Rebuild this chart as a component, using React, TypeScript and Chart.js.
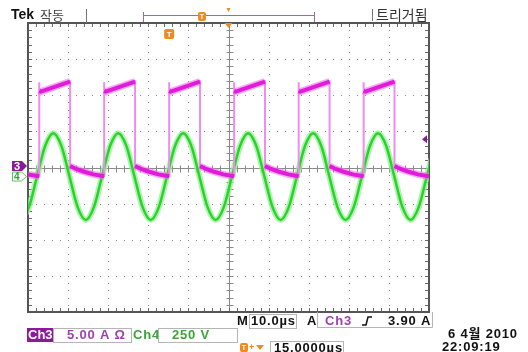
import React, { useEffect, useRef } from "react";
import { Chart, registerables } from "chart.js";

Chart.register(...registerables);

// ---- data (time in µs, Ch3 current in A, Ch4 voltage in V) ----
const ch3Time = [
  0,
  2.8, 2.8, 2.8, 3.2, 10.5, 10.5, 12.0, 13.8, 16.3,
  19.0, 19.0, 19.0, 19.4, 26.7, 26.7, 28.2, 30.0, 32.5,
  35.2, 35.2, 35.2, 35.6, 42.9, 42.9, 44.4, 46.2, 48.7,
  51.4, 51.4, 51.4, 51.8, 59.1, 59.1, 60.6, 62.4, 64.9,
  67.5, 67.5, 67.5, 67.9, 75.2, 75.2, 76.7, 78.5, 81.0,
  83.7, 83.7, 83.7, 84.1, 91.4, 91.4, 92.9, 94.7, 97.2,
  100,
];
const ch3Amps = [
  -0.95,
  -1.2, 11.8, 10.6, 10.5, 11.9, 0.2, -0.2, -0.55, -0.95,
  -1.2, 11.8, 10.6, 10.5, 11.9, 0.2, -0.2, -0.55, -0.95,
  -1.2, 11.8, 10.6, 10.5, 11.9, 0.2, -0.2, -0.55, -0.95,
  -1.2, 11.8, 10.6, 10.5, 11.9, 0.2, -0.2, -0.55, -0.95,
  -1.2, 11.8, 10.6, 10.5, 11.9, 0.2, -0.2, -0.55, -0.95,
  -1.2, 11.8, 10.6, 10.5, 11.9, 0.2, -0.2, -0.55, -0.95,
  -1.2,
];
const ch4Time = [
  -1.8, 0.23, 2.25, 4.28, 6.3, 8.33, 10.35, 12.38,
  14.4, 16.43, 18.45, 20.48, 22.5, 24.53, 26.55, 28.58,
  30.6, 32.63, 34.65, 36.68, 38.7, 40.73, 42.75, 44.78,
  46.8, 48.83, 50.85, 52.88, 54.9, 56.93, 58.95, 60.98,
  63.0, 65.03, 67.05, 69.08, 71.1, 73.13, 75.15, 77.18,
  79.2, 81.23, 83.25, 85.28, 87.3, 89.33, 91.35, 93.38,
  95.4, 97.43, 99.45, 101.48,
];
const ch4Volts = [
  -300, -212, 0, 212, 300, 212, 0, -212,
  -300, -212, 0, 212, 300, 212, 0, -212,
  -300, -212, 0, 212, 300, 212, 0, -212,
  -300, -212, 0, 212, 300, 212, 0, -212,
  -300, -212, 0, 212, 300, 212, 0, -212,
  -300, -212, 0, 212, 300, 212, 0, -212,
  -300, -212, 0, 212,
];

const timeRange = [0, 100]; // 10 div × 10 µs
const ch3Range = [-20, 20]; // 5 A/div
const ch4Range = [-937.5, 1062.5]; // 250 V/div, ground 0.25 div below centre
const triggerLevelA = 3.9;
const triggerTimeUs = 35.2;
const expansionUs = 50;

const topLabels = ["Tek", "작동", "트리거됨"];
const bottomLabels = {
  timebase: "10.0µs",
  trigSrc: "Ch3",
  trigLevel: "3.90 A",
  ch3Scale: "5.00 A Ω",
  ch4Scale: "250 V",
  horizPos: "15.0000µs",
  date: "6 4월 2010",
  time: "22:09:19",
};

const FONT = "'Liberation Sans', 'Noto Sans CJK KR', sans-serif";
const KFONT = "'Noto Sans CJK KR', sans-serif";

const graticulePlugin = {
  id: "graticule",
  beforeDatasetsDraw(chart: any) {
    const { ctx, chartArea } = chart;
    const { left, right, top, bottom } = chartArea;
    const dw = (right - left) / 10;
    const dh = (bottom - top) / 8;
    ctx.save();
    ctx.fillStyle = "#8c8c8c";
    for (let i = 1; i < 10; i++) {
      if (i === 5) continue;
      const x = Math.round(left + i * dw);
      for (let j = 1; j < 40; j++) {
        const y = Math.round(top + (j * dh) / 5);
        ctx.fillRect(x, y, 1, 1);
      }
    }
    for (let j = 1; j < 8; j++) {
      if (j === 4) continue;
      const y = Math.round(top + j * dh);
      for (let i = 1; i < 50; i++) {
        const x = Math.round(left + (i * dw) / 5);
        ctx.fillRect(x, y, 1, 1);
      }
    }
    const cx = Math.round(left + 5 * dw) + 0.5;
    const cy = Math.round(top + 4 * dh) + 0.5;
    ctx.strokeStyle = "#8a8a8a";
    ctx.lineWidth = 1;
    ctx.beginPath();
    ctx.moveTo(cx, top);
    ctx.lineTo(cx, bottom);
    ctx.moveTo(left, cy);
    ctx.lineTo(right, cy);
    for (let j = 1; j < 40; j++) {
      const y = Math.round(top + (j * dh) / 5) + 0.5;
      ctx.moveTo(cx - 3, y);
      ctx.lineTo(cx + 4, y);
    }
    for (let i = 1; i < 50; i++) {
      const x = Math.round(left + (i * dw) / 5) + 0.5;
      ctx.moveTo(x, cy - 3);
      ctx.lineTo(x, cy + 4);
    }
    ctx.stroke();
    ctx.strokeStyle = "#6a6a6a";
    ctx.beginPath();
    for (let i = 1; i < 50; i++) {
      const x = Math.round(left + (i * dw) / 5) + 0.5;
      ctx.moveTo(x, top);
      ctx.lineTo(x, top + 4);
      ctx.moveTo(x, bottom);
      ctx.lineTo(x, bottom - 4);
    }
    for (let j = 1; j < 40; j++) {
      const y = Math.round(top + (j * dh) / 5) + 0.5;
      ctx.moveTo(left, y);
      ctx.lineTo(left + 4, y);
      ctx.moveTo(right, y);
      ctx.lineTo(right - 4, y);
    }
    ctx.stroke();
    ctx.strokeStyle = "#555";
    ctx.lineWidth = 2;
    ctx.strokeRect(left, top, right - left, bottom - top);
    ctx.restore();
  },
};

function tBox(ctx: any, x: number, y: number, w: number, h: number) {
  ctx.save();
  ctx.letterSpacing = "0px";
  ctx.fillStyle = "#f08a1c";
  ctx.beginPath();
  ctx.roundRect(x, y, w, h, 2);
  ctx.fill();
  ctx.fillStyle = "#fff";
  ctx.font = `bold ${h - 2}px ${FONT}`;
  ctx.textAlign = "center";
  ctx.textBaseline = "middle";
  ctx.fillText("T", x + w / 2, y + h / 2 + 0.5);
  ctx.restore();
}

function box(ctx: any, x: number, y: number, w: number, h: number) {
  ctx.save();
  ctx.strokeStyle = "#b5b5b5";
  ctx.lineWidth = 1;
  ctx.strokeRect(x + 0.5, y + 0.5, w, h);
  ctx.restore();
}

const overlayPlugin = {
  id: "overlay",
  afterDraw(chart: any) {
    const { ctx, chartArea, scales } = chart;
    const { right, top, bottom } = chartArea;
    ctx.save();
    ctx.textAlign = "left";
    ctx.textBaseline = "middle";

    // ---- top status line ----
    ctx.fillStyle = "#111";
    ctx.font = `bold 14px ${FONT}`;
    ctx.fillText(topLabels[0], 11, 15);
    ctx.fillStyle = "#444";
    ctx.font = `13px ${KFONT}`;
    ctx.fillText(topLabels[1], 40, 15);
    ctx.strokeStyle = "#777";
    ctx.lineWidth = 1;
    ctx.beginPath();
    ctx.moveTo(86.5, 9);
    ctx.lineTo(86.5, top);
    ctx.moveTo(372.5, 9);
    ctx.lineTo(372.5, 21);
    ctx.stroke();
    ctx.fillStyle = "#333";
    ctx.font = `14px ${KFONT}`;
    ctx.fillText(topLabels[2], 376, 15);

    // record bar
    ctx.strokeStyle = "#9a6aae";
    ctx.beginPath();
    ctx.moveTo(143.5, 15.5);
    ctx.lineTo(314.5, 15.5);
    ctx.moveTo(143.5, 12);
    ctx.lineTo(143.5, top - 1);
    ctx.moveTo(314.5, 12);
    ctx.lineTo(314.5, top - 1);
    ctx.stroke();
    tBox(ctx, 198, 12, 8, 9);

    // expansion point marker at top
    const ex = scales.x.getPixelForValue(expansionUs);
    ctx.fillStyle = "#f08a1c";
    ctx.beginPath();
    ctx.moveTo(ex - 4, top);
    ctx.lineTo(ex + 4, top);
    ctx.lineTo(ex, top + 5);
    ctx.closePath();
    ctx.fill();
    ctx.beginPath();
    ctx.moveTo(ex - 2, 8);
    ctx.lineTo(ex + 2, 8);
    ctx.lineTo(ex, 12);
    ctx.closePath();
    ctx.fill();

    // trigger point marker
    const tx = scales.x.getPixelForValue(triggerTimeUs);
    tBox(ctx, tx - 5, 29, 10, 10);

    // ---- channel ground markers ----
    const g4 = scales.y4.getPixelForValue(0);
    ctx.fillStyle = "#fff";
    ctx.strokeStyle = "#5cc45c";
    ctx.lineWidth = 1;
    ctx.beginPath();
    ctx.moveTo(12.5, g4 - 4.5);
    ctx.lineTo(21.5, g4 - 4.5);
    ctx.lineTo(26.5, g4);
    ctx.lineTo(21.5, g4 + 4.5);
    ctx.lineTo(12.5, g4 + 4.5);
    ctx.closePath();
    ctx.fill();
    ctx.stroke();
    ctx.fillStyle = "#3a9a3a";
    ctx.font = `bold 10px ${FONT}`;
    ctx.fillText("4", 14, g4 + 0.5);

    const g3 = scales.y3.getPixelForValue(0) - 1.5;
    ctx.fillStyle = "#8a1a98";
    ctx.beginPath();
    ctx.moveTo(12, g3 - 5);
    ctx.lineTo(22, g3 - 5);
    ctx.lineTo(27, g3);
    ctx.lineTo(22, g3 + 5);
    ctx.lineTo(12, g3 + 5);
    ctx.closePath();
    ctx.fill();
    ctx.fillStyle = "#fff";
    ctx.font = `bold 11px ${FONT}`;
    ctx.fillText("3", 14, g3 + 0.5);

    // trigger level marker on right
    const tl = scales.y3.getPixelForValue(triggerLevelA);
    ctx.fillStyle = "#8a1a98";
    ctx.beginPath();
    ctx.moveTo(right - 7, tl);
    ctx.lineTo(right - 2, tl - 4);
    ctx.lineTo(right - 2, tl + 4);
    ctx.closePath();
    ctx.fill();

    // ---- bottom readouts ----
    ctx.letterSpacing = "0.8px";
    const BF = `bold 13px ${FONT}`;
    const r1 = bottom + 9;
    ctx.font = BF;
    ctx.fillStyle = "#111";
    ctx.fillText("M", 237, r1);
    box(ctx, 249, bottom + 2, 47, 14);
    ctx.fillText(bottomLabels.timebase, 251, r1);
    ctx.fillText("A", 307, r1);
    ctx.strokeStyle = "#b5b5b5";
    ctx.lineWidth = 1;
    ctx.beginPath();
    ctx.moveTo(317.5, bottom);
    ctx.lineTo(317.5, bottom + 15.5);
    ctx.lineTo(432.5, bottom + 15.5);
    ctx.lineTo(432.5, bottom);
    ctx.stroke();
    ctx.fillStyle = "#a040b0";
    ctx.fillText(bottomLabels.trigSrc, 325, r1);
    ctx.strokeStyle = "#111";
    ctx.lineWidth = 1.5;
    ctx.beginPath();
    ctx.moveTo(362, r1 + 4);
    ctx.lineTo(366, r1 + 4);
    ctx.lineTo(368, r1 - 4);
    ctx.lineTo(372, r1 - 4);
    ctx.stroke();
    ctx.fillStyle = "#111";
    ctx.fillText(bottomLabels.trigLevel, 388, r1);

    const r2 = 335;
    ctx.fillStyle = "#8a1a98";
    ctx.fillRect(27, r2 - 7, 26, 14);
    ctx.fillStyle = "#fff";
    ctx.letterSpacing = "0px";
    ctx.fillText("Ch3", 28, r2);
    ctx.letterSpacing = "0.8px";
    box(ctx, 53, r2 - 7, 78, 14);
    ctx.fillStyle = "#a040b0";
    ctx.fillText(bottomLabels.ch3Scale, 67, r2);
    ctx.fillStyle = "#3aa53a";
    ctx.fillText("Ch4", 133, r2);
    box(ctx, 158, r2 - 7, 79, 14);
    ctx.fillStyle = "#3aa53a";
    ctx.fillText(bottomLabels.ch4Scale, 172, r2);

    const r3 = 348;
    tBox(ctx, 240, r3 - 5, 8, 9);
    ctx.fillStyle = "#f08a1c";
    ctx.font = `bold 9px ${FONT}`;
    ctx.fillText("+", 249, r3);
    ctx.beginPath();
    ctx.moveTo(256, r3 - 3);
    ctx.lineTo(264, r3 - 3);
    ctx.lineTo(260, r3 + 2);
    ctx.closePath();
    ctx.fill();
    box(ctx, 270, r3 - 7, 73, 14);
    ctx.fillStyle = "#111";
    ctx.font = BF;
    ctx.fillText(bottomLabels.horizPos, 274, r3);

    ctx.fillText(bottomLabels.date, 448, 334);
    ctx.fillText(bottomLabels.time, 442, 347);
    ctx.restore();
  },
};

export default function App() {
  const ref = useRef<HTMLCanvasElement | null>(null);
  useEffect(() => {
    if (!ref.current) return;
    const ch3 = ch3Time.map((t, i) => ({ x: t, y: ch3Amps[i] }));
    const ch4 = ch4Time.map((t, i) => ({ x: t, y: ch4Volts[i] }));
    const hideVertical = (color: string) => (c: any) =>
      c.p0.parsed.x === c.p1.parsed.x ? "rgba(0,0,0,0)" : color;
    const chart = new Chart(ref.current, {
      type: "line",
      data: {
        datasets: [
          {
            label: "Ch4 glow",
            data: ch4,
            yAxisID: "y4",
            borderColor: "rgba(150,238,150,0.75)",
            borderWidth: 6,
            pointRadius: 0,
            cubicInterpolationMode: "monotone",
            clip: 0,
            order: 10,
          },
          {
            label: "Ch4",
            data: ch4,
            yAxisID: "y4",
            borderColor: "rgb(40,212,40)",
            borderWidth: 2.5,
            pointRadius: 0,
            cubicInterpolationMode: "monotone",
            clip: 0,
            order: 9,
          },
          {
            label: "Ch3 edges",
            data: ch3,
            yAxisID: "y3",
            borderColor: "rgb(240,140,240)",
            borderWidth: 2,
            pointRadius: 0,
            tension: 0,
            clip: 0,
            order: 8,
          },
          {
            label: "Ch3 glow",
            data: ch3,
            yAxisID: "y3",
            borderColor: "rgba(240,110,236,0.6)",
            borderWidth: 7,
            pointRadius: 0,
            tension: 0,
            clip: 0,
            order: 7,
            segment: { borderColor: hideVertical("rgba(240,110,236,0.6)") },
          },
          {
            label: "Ch3",
            data: ch3,
            yAxisID: "y3",
            borderColor: "rgb(226,26,218)",
            borderWidth: 4,
            pointRadius: 0,
            tension: 0,
            clip: 0,
            order: 6,
            segment: { borderColor: hideVertical("rgb(226,26,218)") },
          },
        ],
      },
      options: {
        animation: false,
        responsive: false,
        devicePixelRatio: 1,
        layout: { padding: { left: 28, top: 23, right: 99, bottom: 40 } },
        plugins: {
          legend: { display: false },
          tooltip: { enabled: false },
        },
        scales: {
          x: { type: "linear", display: false, min: timeRange[0], max: timeRange[1] },
          y3: { type: "linear", display: false, min: ch3Range[0], max: ch3Range[1] },
          y4: { type: "linear", display: false, min: ch4Range[0], max: ch4Range[1] },
        },
      },
      plugins: [graticulePlugin, overlayPlugin],
    } as any);
    return () => chart.destroy();
  }, []);
  return (
    <div style={{ position: "fixed", left: 0, top: 0, width: 528, height: 352, background: "#fff" }}>
      <canvas ref={ref} width={528} height={352} style={{ display: "block" }} />
    </div>
  );
}
